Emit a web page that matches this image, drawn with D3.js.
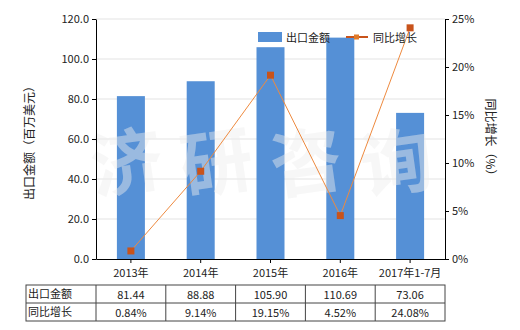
<!DOCTYPE html>
<html>
<head>
<meta charset="utf-8">
<script src="https://cdn.jsdelivr.net/npm/d3@7"></script>
<style>
  body { margin: 0; background: #fff; }
  text { font-family: "Noto Sans CJK SC", "Noto Sans", sans-serif; fill: #222; }
</style>
</head>
<body>
<div id="chart"></div>
<script>
// chart data
var categories = ['2013年', '2014年', '2015年', '2016年', '2017年1-7月'];
var exportValues = [81.44, 88.88, 105.90, 110.69, 73.06];
var growthValues = [0.84, 9.14, 19.15, 4.52, 24.08];
var exportLabels = ['81.44', '88.88', '105.90', '110.69', '73.06'];
var growthLabels = ['0.84%', '9.14%', '19.15%', '4.52%', '24.08%'];
var leftTicks = [0, 20, 40, 60, 80, 100, 120];
var rightTicks = [0, 5, 10, 15, 20, 25];

var svgWidth = 520;
var svgHeight = 330;
var margin = { top: 19, right: 75, bottom: 71, left: 96 };
var width = svgWidth - margin.left - margin.right;
var height = svgHeight - margin.top - margin.bottom;

var svg = d3.select('#chart')
  .append('svg')
  .attr('width', svgWidth)
  .attr('height', svgHeight);

var chartGroup = svg.append('g')
  .attr('transform', `translate(${margin.left}, ${margin.top})`);

var xScale = d3.scaleBand()
  .domain(categories)
  .range([0, width]);

var yLeft = d3.scaleLinear()
  .domain([0, 120])
  .range([height, 0]);

var yRight = d3.scaleLinear()
  .domain([0, 25])
  .range([height, 0]);

// grid lines
chartGroup.selectAll('.grid')
  .data(leftTicks.slice(1))
  .enter()
  .append('line')
  .attr('x1', 0)
  .attr('x2', width)
  .attr('y1', d => yLeft(d))
  .attr('y2', d => yLeft(d))
  .attr('stroke', '#e3e3e3')
  .attr('stroke-width', 1);

// bars
var barWidth = 28;
chartGroup.selectAll('.bar')
  .data(exportValues)
  .enter()
  .append('rect')
  .attr('x', (d, i) => xScale(categories[i]) + xScale.bandwidth() / 2 - barWidth / 2)
  .attr('y', d => yLeft(d))
  .attr('width', barWidth)
  .attr('height', d => height - yLeft(d))
  .attr('fill', '#5590d6');

// watermark
var wm = ['济', '研', '咨', '询'];
chartGroup.selectAll('.wm')
  .data(wm)
  .enter()
  .append('text')
  .attr('x', (d, i) => 30 + i * 90)
  .attr('y', 170)
  .attr('text-anchor', 'middle')
  .attr('font-size', 72)
  .attr('font-weight', 'bold')
  .style('fill', '#eeeeee')
  .attr('opacity', 0.45)
  .attr('transform', (d, i) => `rotate(-8, ${30 + i * 90}, 140)`)
  .text(d => d);

// line
var line = d3.line()
  .x((d, i) => xScale(categories[i]) + xScale.bandwidth() / 2)
  .y(d => yRight(d));

chartGroup.append('path')
  .datum(growthValues)
  .attr('d', line)
  .attr('fill', 'none')
  .attr('stroke', '#ee8a3f')
  .attr('stroke-width', 1);

chartGroup.selectAll('.marker')
  .data(growthValues)
  .enter()
  .append('rect')
  .attr('x', (d, i) => xScale(categories[i]) + xScale.bandwidth() / 2 - 3.5)
  .attr('y', d => yRight(d) - 3.5)
  .attr('width', 7)
  .attr('height', 7)
  .attr('fill', '#c8531b');

// axes
var bottomAxis = d3.axisBottom(xScale).tickSize(4).tickSizeOuter(0).tickFormat('');
var leftAxis = d3.axisLeft(yLeft).tickValues(leftTicks).tickSize(4).tickSizeOuter(0).tickFormat(d3.format('.1f'));
var rightAxis = d3.axisRight(yRight).tickValues(rightTicks).tickSize(4).tickSizeOuter(0).tickFormat(d => d + '%');

var gx = chartGroup.append('g')
  .attr('transform', `translate(0, ${height})`)
  .call(bottomAxis);

var gl = chartGroup.append('g').call(leftAxis);
var gr = chartGroup.append('g')
  .attr('transform', `translate(${width}, 0)`)
  .call(rightAxis);

[gx, gl, gr].forEach(function(g) {
  g.select('.domain').attr('stroke', '#000');
  g.selectAll('.tick line').attr('stroke', '#000');
  g.selectAll('.tick text').attr('font-size', 11).style('fill', '#222')
    .attr('font-family', '"Noto Sans CJK SC", sans-serif');
});

// category labels
chartGroup.selectAll('.cat')
  .data(categories)
  .enter()
  .append('text')
  .attr('x', d => xScale(d) + xScale.bandwidth() / 2)
  .attr('y', height + 18)
  .attr('text-anchor', 'middle')
  .attr('font-size', 11)
  .text(d => d);

// axis titles
svg.append('text')
  .attr('transform', 'translate(34, 140) rotate(-90)')
  .attr('text-anchor', 'middle')
  .attr('font-size', 12)
  .text('出口金额（百万美元）');

svg.append('text')
  .attr('transform', 'translate(486, 140) rotate(90)')
  .attr('text-anchor', 'middle')
  .attr('font-size', 12)
  .text('同比增长（%）');

// legend
var legend = svg.append('g');
legend.append('rect')
  .attr('x', 258).attr('y', 32).attr('width', 24).attr('height', 10)
  .attr('fill', '#5590d6');
legend.append('text')
  .attr('x', 286).attr('y', 42).attr('font-size', 11)
  .text('出口金额');
legend.append('line')
  .attr('x1', 346).attr('x2', 368).attr('y1', 37).attr('y2', 37)
  .attr('stroke', '#c8531b').attr('stroke-width', 2);
legend.append('rect')
  .attr('x', 354).attr('y', 34.5).attr('width', 5).attr('height', 5)
  .attr('fill', '#e07b2a');
legend.append('text')
  .attr('x', 373).attr('y', 42).attr('font-size', 11)
  .text('同比增长');

// data table
var tableTop = margin.top + height + 26;
var rowH = 18;
var tableLeft = 26;
var tg = svg.append('g');
var rows = [['出口金额', exportLabels], ['同比增长', growthLabels]];

tg.append('rect')
  .attr('x', tableLeft).attr('y', tableTop)
  .attr('width', margin.left + width - tableLeft).attr('height', rowH * 2)
  .attr('fill', 'none').attr('stroke', '#444');
tg.append('line')
  .attr('x1', tableLeft).attr('x2', margin.left + width)
  .attr('y1', tableTop + rowH).attr('y2', tableTop + rowH)
  .attr('stroke', '#444');
tg.selectAll('.col')
  .data(categories)
  .enter()
  .append('line')
  .attr('x1', d => margin.left + xScale(d))
  .attr('x2', d => margin.left + xScale(d))
  .attr('y1', tableTop).attr('y2', tableTop + rowH * 2)
  .attr('stroke', '#444');

rows.forEach(function(r, ri) {
  tg.append('text')
    .attr('x', tableLeft + 2)
    .attr('y', tableTop + ri * rowH + 13)
    .attr('font-size', 11)
    .text(r[0]);
  tg.selectAll('.cell' + ri)
    .data(r[1])
    .enter()
    .append('text')
    .attr('x', (d, i) => margin.left + xScale(categories[i]) + xScale.bandwidth() / 2)
    .attr('y', tableTop + ri * rowH + 14)
    .attr('text-anchor', 'middle')
    .attr('font-size', 11)
    .text(d => d);
});
</script>
</body>
</html>
